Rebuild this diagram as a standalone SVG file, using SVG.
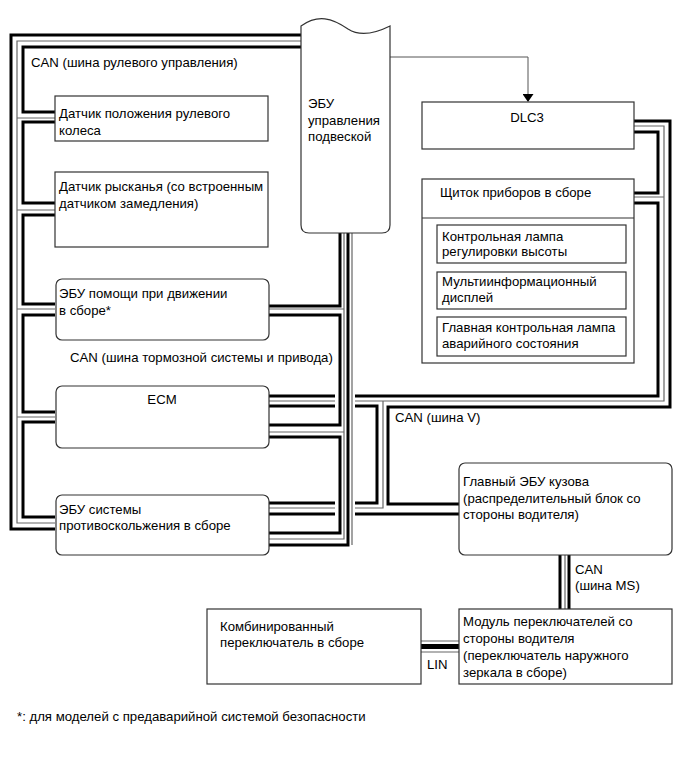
<svg xmlns="http://www.w3.org/2000/svg" width="687" height="759" viewBox="0 0 687 759">
<defs>
<style>
text{font-family:"Liberation Sans",Arial,sans-serif;font-size:13.2px;fill:#000}
.box{fill:#fff;stroke:#333;stroke-width:1.2}
.tk{fill:none;stroke:#000;stroke-width:3}
.tn{fill:none;stroke:#666;stroke-width:1.2}
.ar{fill:none;stroke:#555;stroke-width:1}
</style>
<marker id="ah" markerWidth="8" markerHeight="11" refX="7" refY="5.5" orient="auto" markerUnits="userSpaceOnUse">
<path d="M0,0 L8,5.5 L0,11 Z" fill="#000"/>
</marker>
</defs>
<rect width="687" height="759" fill="#fff"/>

<g id="connectors">
<!-- steering bus (left) -->
<path class="tk" d="M301,35 H11 V529 H55"/>
<path class="tn" d="M301,41 H17 V523 H55 M17,118 H55 M17,210 H55 M17,309 H55 M17,417 H55"/>
<path class="tk" d="M301,47 H23 V112 H55 M55,122 H23 V203 H55 M55,215 H23 V304 H55 M55,315 H23 V412 H55 M55,422 H23 V517 H55"/>
<!-- brake/drive bus (pillar) -->
<path class="tk" d="M340,233 V306 H269 M269,315 H340 V425 H269 M269,437 H340 V533 H269 M269,545 H348 V233"/>
<path class="tn" d="M344,233 V539 H269 M344,309 H269 M344,432 H269 M352,233 V545"/>
<!-- V bus -->
<path class="tk" d="M634,121 H670 V407 H388 V504 H459"/>
<path class="tn" d="M634,126 H664 V401 H355 M335,401 H269 M634,197 H664 M383,401 V508 H355 M335,508 H269"/>
<path class="tk" d="M634,132 H658 V193 H634"/>
<path class="tk" d="M634,203 H658 V396 H355 M335,396 H269"/>
<path class="tk" d="M269,406 H335 M355,406 H377 V503 H355 M335,503 H269"/>
<path class="tk" d="M459,514 H355 M335,514 H269"/>
<!-- MS bus -->
<path class="tk" d="M560,555 V609"/>
<path class="tn" d="M565,555 V609"/>
<path class="tk" d="M569,555 V609"/>
<!-- LIN -->
<path class="tn" d="M421,641 H459 M421,652 H459"/>
<path class="tk" d="M421,646.5 H459" style="stroke-width:5"/>
<!-- arrow to DLC3 -->
<path class="ar" d="M390,57 H528 V101" marker-end="url(#ah)"/>
</g>

<g id="ecu-suspension">
<path class="box" d="M301,26 C318,14 332,18 348,29 C362,38 378,32 390,26 V225 Q390,233 382,233 H309 Q301,233 301,225 Z"/>
<text x="308" y="108">ЭБУ</text>
<text x="308" y="125">управления</text>
<text x="308" y="141">подвеской</text>
</g>

<g id="label-can-steering"><text x="31" y="67">CAN (шина рулевого управления)</text></g>

<g id="steering-sensor">
<rect class="box" x="55" y="96" width="213" height="45"/>
<text x="59" y="118">Датчик положения рулевого</text>
<text x="59" y="135">колеса</text>
</g>

<g id="yaw-sensor">
<rect class="box" x="55" y="172" width="213" height="75"/>
<text x="59" y="191">Датчик рысканья (со встроенным</text>
<text x="59" y="208">датчиком замедления)</text>
</g>

<g id="dsecu">
<rect class="box" x="56" y="279" width="213" height="61" rx="6"/>
<text x="59" y="298">ЭБУ помощи при движении</text>
<text x="59" y="315">в сборе*</text>
</g>

<g id="label-can-brake"><text x="70" y="362">CAN (шина тормозной системы и привода)</text></g>

<g id="ecm">
<rect class="box" x="56" y="386" width="213" height="62" rx="6"/>
<text x="162" y="404" text-anchor="middle">ECM</text>
</g>

<g id="skid-ecu">
<rect class="box" x="56" y="495" width="213" height="60" rx="6"/>
<text x="59" y="514">ЭБУ системы</text>
<text x="59" y="530">противоскольжения в сборе</text>
</g>

<g id="dlc3">
<rect class="box" x="422" y="102" width="212" height="47"/>
<text x="527" y="122" text-anchor="middle">DLC3</text>
</g>

<g id="meter">
<rect class="box" x="422" y="179" width="212" height="184"/>
<line x1="422" y1="218" x2="634" y2="218" stroke="#333" stroke-width="1.2"/>
<text x="440" y="197">Щиток приборов в сборе</text>
<rect class="box" x="437" y="225" width="189" height="38"/>
<text x="442" y="241">Контрольная лампа</text>
<text x="442" y="256">регулировки высоты</text>
<rect class="box" x="437" y="272" width="189" height="37"/>
<text x="442" y="286">Мультиинформационный</text>
<text x="442" y="302">дисплей</text>
<rect class="box" x="437" y="317" width="189" height="39"/>
<text x="442" y="332">Главная контрольная лампа</text>
<text x="442" y="348">аварийного состояния</text>
</g>

<g id="label-can-v"><text x="395" y="422">CAN (шина V)</text></g>

<g id="body-ecu">
<rect class="box" x="459" y="463" width="213" height="92" rx="6"/>
<text x="463" y="486">Главный ЭБУ кузова</text>
<text x="463" y="503">(распределительный блок со</text>
<text x="463" y="519">стороны водителя)</text>
</g>

<g id="label-can-ms">
<text x="575" y="574">CAN</text>
<text x="575" y="590">(шина MS)</text>
</g>

<g id="switch-module">
<rect class="box" x="459" y="609" width="213" height="75"/>
<text x="463" y="626">Модуль переключателей со</text>
<text x="463" y="643">стороны водителя</text>
<text x="463" y="660">(переключатель наружного</text>
<text x="463" y="677">зеркала в сборе)</text>
</g>

<g id="combo-switch">
<rect class="box" x="207" y="609" width="214" height="75"/>
<text x="220" y="631">Комбинированный</text>
<text x="220" y="647">переключатель в сборе</text>
</g>

<g id="label-lin"><text x="427" y="669">LIN</text></g>

<g id="footnote"><text x="17" y="721">*: для моделей с предаварийной системой безопасности</text></g>
</svg>
